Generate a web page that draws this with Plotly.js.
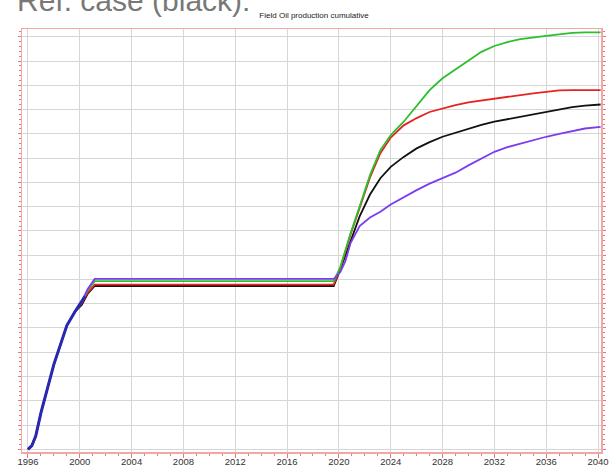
<!DOCTYPE html>
<html>
<head>
<meta charset="utf-8">
<script src="https://cdn.plot.ly/plotly-3.0.1.min.js"></script>
<style>html,body{margin:0;padding:0;background:#fff;}#chart{width:611px;height:469px;}</style>
</head>
<body>
<div id="chart"></div>
<script>
// Years (decimal) shared by all four forecast cases
const years = [1996.0, 1996.3, 1996.6, 1997.0, 1998.0, 1999.0, 1999.6, 2000.15, 2000.6, 2001.15,
  2005, 2010, 2015, 2019.6, 2020.1, 2020.5, 2020.9, 2021.6, 2022.4, 2023.2,
  2024, 2025, 2026, 2027, 2028, 2029, 2030, 2031, 2032, 2033, 2034, 2035, 2036, 2037, 2038, 2039, 2040.2];

// Cumulative oil (grid units)
const greenCase = [0, 0.15, 0.55, 1.5, 3.5, 5.1, 5.65, 6.08, 6.55, 6.93,
  6.93, 6.93, 6.93, 6.93, 7.5, 8.2, 8.9, 10.0, 11.3, 12.33,
  12.95, 13.5, 14.15, 14.8, 15.29, 15.65, 16.0, 16.38, 16.62, 16.78, 16.9, 16.98, 17.04, 17.1, 17.16, 17.18, 17.18];
const redCase = [0, 0.15, 0.55, 1.5, 3.5, 5.1, 5.65, 6.02, 6.45, 6.79,
  6.79, 6.79, 6.79, 6.79, 7.45, 8.15, 8.85, 9.95, 11.2, 12.2,
  12.85, 13.35, 13.65, 13.9, 14.05, 14.18, 14.3, 14.38, 14.46, 14.53, 14.6, 14.67, 14.73, 14.79, 14.8, 14.8, 14.8];
const blackCase = [0, 0.15, 0.55, 1.5, 3.5, 5.1, 5.65, 5.95, 6.4, 6.73,
  6.73, 6.73, 6.73, 6.73, 7.4, 8.0, 8.6, 9.6, 10.5, 11.17,
  11.64, 12.05, 12.4, 12.66, 12.88, 13.05, 13.22, 13.37, 13.5, 13.6, 13.68, 13.8, 13.91, 14.0, 14.1, 14.16, 14.21];
const purpleCase = [0, 0.15, 0.55, 1.5, 3.5, 5.1, 5.65, 6.08, 6.6, 7.02,
  7.02, 7.02, 7.02, 7.02, 7.3, 7.75, 8.5, 9.2, 9.55, 9.79,
  10.09, 10.4, 10.68, 10.95, 11.17, 11.4, 11.7, 11.98, 12.26, 12.45, 12.6, 12.75, 12.88, 13.0, 13.12, 13.22, 13.29];

// Historical (observed) production
const histYears = [1996.0, 1996.3, 1996.6, 1997.0, 1998.0, 1999.0, 1999.6, 2000.15, 2000.4];
const histValues = [0, 0.15, 0.55, 1.5, 3.5, 5.1, 5.65, 6.08, 6.3];

const xTickVals = [1996, 2000, 2004, 2008, 2012, 2016, 2020, 2024, 2028, 2032, 2036, 2040];
const xTickText = ['1996', '2000', '2004', '2008', '2012', '2016', '2020', '2024', '2028', '2032', '2036', '2040'];

const line = (y, color, w) => ({x: years, y: y, type: 'scatter', mode: 'lines',
  line: {color: color, width: w}, hoverinfo: 'skip', showlegend: false});

const data = [
  line(blackCase, '#111111', 1.8),
  line(redCase, '#e82222', 1.8),
  line(greenCase, '#2cbf2c', 1.8),
  line(purpleCase, '#7c3cf0', 1.8),
  {x: histYears, y: histValues, type: 'scatter', mode: 'lines',
   line: {color: '#2a28b0', width: 3}, hoverinfo: 'skip', showlegend: false}
];

const axisRed = '#e87878';
const layout = {
  width: 611, height: 469,
  margin: {l: 22, r: 10, t: 29, b: 17, pad: 0},
  paper_bgcolor: '#ffffff', plot_bgcolor: '#ffffff',
  showlegend: false,
  title: {text: 'Field Oil production cumulative', x: 0.514, xanchor: 'center', y: 0.968, yanchor: 'middle',
    font: {family: 'Liberation Sans, Arial, sans-serif', size: 8, color: '#222'}},
  xaxis: {
    range: [1995.54, 2040.23], tickmode: 'array', tickvals: xTickVals, ticktext: xTickText,
    showgrid: true, gridcolor: '#d6d6d6', gridwidth: 1, zeroline: false,
    showline: true, linecolor: '#f2a6a6', linewidth: 1.5, mirror: true,
    ticks: 'outside', ticklen: 4, tickcolor: axisRed, tickwidth: 1, ticklabelstandoff: -4,
    minor: {dtick: 1, tick0: 1996, ticks: 'outside', ticklen: 2, tickcolor: axisRed, showgrid: false},
    tickfont: {family: 'Liberation Sans, Arial, sans-serif', size: 9.5, color: '#333'}
  },
  yaxis: {
    range: [-0.11, 17.32], dtick: 1, tick0: 0, showticklabels: false,
    showgrid: true, gridcolor: '#d6d6d6', gridwidth: 1, zeroline: false,
    showline: true, linecolor: '#f2a6a6', linewidth: 1.5, mirror: 'ticks',
    ticks: 'outside', ticklen: 3, tickcolor: axisRed, tickwidth: 1,
    minor: {dtick: 0.2, ticks: 'outside', ticklen: 2, tickcolor: axisRed, showgrid: false}
  },
  annotations: [{
    text: 'Ref. case (black):', xref: 'paper', yref: 'paper', x: -0.012, y: 1.0685,
    xanchor: 'left', yanchor: 'middle', showarrow: false,
    font: {family: 'Liberation Sans, Arial, sans-serif', size: 30, color: '#787878'}
  }]
};

Plotly.newPlot('chart', data, layout, {displayModeBar: false, staticPlot: true});
</script>
</body>
</html>
